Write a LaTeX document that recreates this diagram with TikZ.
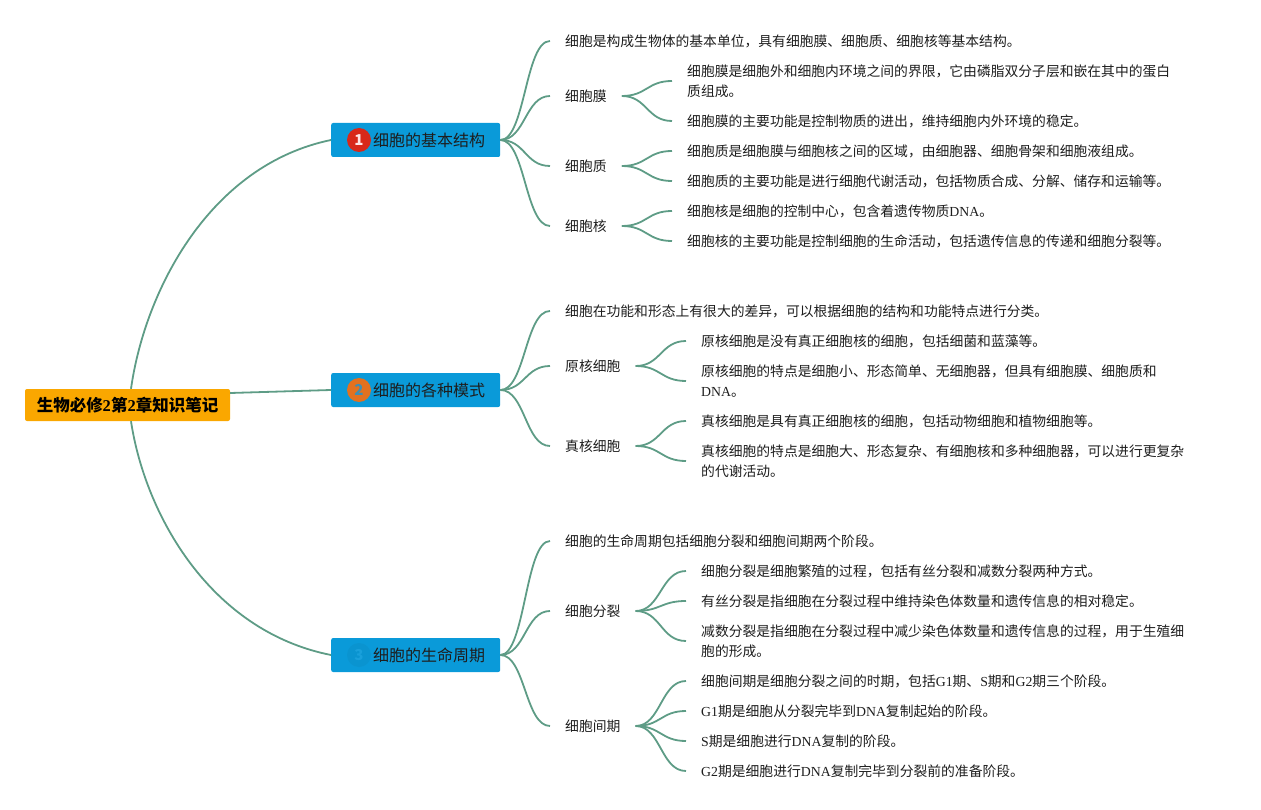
\documentclass[tikz,border=0pt]{standalone}
\usepackage{fontspec}
\setmainfont{Noto Sans CJK SC}
\newfontfamily\lat{Liberation Serif}
\usetikzlibrary{calc}
\definecolor{linkc}{HTML}{5E9C86}
\definecolor{rootc}{HTML}{FAA700}
\definecolor{boxc}{HTML}{0A9AD9}
\definecolor{redc}{HTML}{D8281A}
\definecolor{orgc}{HTML}{E2711F}
\definecolor{txtc}{HTML}{1E1E1E}
\newcommand\curvelink[2]{\draw[link] let \p1=(#1),\p2=(#2) in (\p1) .. controls ({0.5*\x1+0.5*\x2},\y1) and ({0.5*\x1+0.5*\x2},\y2) .. (\p2);}
\tikzset{
  link/.style={draw=linkc, line width=1.8pt},
  txt/.style={anchor=west, inner xsep=15pt, inner ysep=0pt, align=left, text=txtc, font=\fontsize{13.8}{20}\selectfont},
  rootbox/.style={fill=rootc, rounded corners=2pt, minimum width=205pt, minimum height=32pt, inner sep=0pt, text=black, font=\fontsize{16.5}{20}\selectfont\bfseries},
  branchbox/.style={fill=boxc, rounded corners=2pt, minimum width=169pt, minimum height=34pt, inner sep=0pt, anchor=west},
  branchtxt/.style={anchor=west, inner sep=0pt, text=txtc, font=\fontsize{16}{20}\selectfont},
  numc/.style={circle, fill=#1, minimum size=24pt, inner sep=0pt, font=\fontsize{15}{18}\selectfont\bfseries},
}
\begin{document}
\begin{tikzpicture}[x=1pt,y=-1pt]
\useasboundingbox (0,0) rectangle (1261,810);
% root
\node[rootbox] (root) at (127.5,405) {生物必修{\lat 2}第{\lat 2}章知识笔记};
% branch boxes
\node[branchbox] (b1) at (331,140) {};
\node[branchbox] (b2) at (331,390) {};
\node[branchbox] (b3) at (331,655) {};
\node[numc=redc, text=red!10] (c1) at (359,140) {1};
\node[numc=orgc, text=boxc!55!gray] (c2) at (359,390) {2};
\node[numc=boxc!96!black, text=boxc!94!white] (c3) at (359,655) {3};
\node[branchtxt] (t1) at (373,140) {细胞的基本结构};
\node[branchtxt] (t2) at (373,390) {细胞的各种模式};
\node[branchtxt] (t3) at (373,655) {细胞的生命周期};
% root connectors
\coordinate (rootup) at ($(root.north)+(3.5,0)$);
\coordinate (rootdown) at ($(root.south)+(3.5,0)$);
\coordinate (rootmid) at ($(root.east)+(0,-12)$);
\draw[link] (rootup) .. controls ($(rootup)+(14,-99)$) and ($(b1.west)+(-121,25)$) .. (b1.west);
\draw[link] (rootmid) -- (b2.west);
\draw[link] (rootdown) .. controls ($(rootdown)+(14,93)$) and ($(b3.west)+(-121,-24)$) .. (b3.west);

% ---------- branch 1
\node[txt] (a0) at (550,41) {细胞是构成生物体的基本单位，具有细胞膜、细胞质、细胞核等基本结构。};
\node[txt] (a1) at (550,96) {细胞膜};
\node[txt] (a2) at (550,166) {细胞质};
\node[txt] (a3) at (550,226) {细胞核};
\node[txt] (a11) at (672,81) {细胞膜是细胞外和细胞内环境之间的界限，它由磷脂双分子层和嵌在其中的蛋白\\质组成。};
\node[txt] (a12) at (672,121) {细胞膜的主要功能是控制物质的进出，维持细胞内外环境的稳定。};
\node[txt] (a21) at (672,151) {细胞质是细胞膜与细胞核之间的区域，由细胞器、细胞骨架和细胞液组成。};
\node[txt] (a22) at (672,181) {细胞质的主要功能是进行细胞代谢活动，包括物质合成、分解、储存和运输等。};
\node[txt] (a31) at (672,211) {细胞核是细胞的控制中心，包含着遗传物质{\lat DNA}。};
\node[txt] (a32) at (672,241) {细胞核的主要功能是控制细胞的生命活动，包括遗传信息的传递和细胞分裂等。};
\curvelink{b1.east}{a0.west}
\curvelink{b1.east}{a1.west}
\curvelink{b1.east}{a2.west}
\curvelink{b1.east}{a3.west}
\curvelink{a1.east}{a11.west}
\curvelink{a1.east}{a12.west}
\curvelink{a2.east}{a21.west}
\curvelink{a2.east}{a22.west}
\curvelink{a3.east}{a31.west}
\curvelink{a3.east}{a32.west}

% ---------- branch 2
\node[txt] (m0) at (550,311) {细胞在功能和形态上有很大的差异，可以根据细胞的结构和功能特点进行分类。};
\node[txt] (m1) at (550,366) {原核细胞};
\node[txt] (m2) at (550,446) {真核细胞};
\node[txt] (m11) at (686,341) {原核细胞是没有真正细胞核的细胞，包括细菌和蓝藻等。};
\node[txt] (m12) at (686,381) {原核细胞的特点是细胞小、形态简单、无细胞器，但具有细胞膜、细胞质和\\{\lat DNA}。};
\node[txt] (m21) at (686,421) {真核细胞是具有真正细胞核的细胞，包括动物细胞和植物细胞等。};
\node[txt] (m22) at (686,461) {真核细胞的特点是细胞大、形态复杂、有细胞核和多种细胞器，可以进行更复杂\\的代谢活动。};
\curvelink{b2.east}{m0.west}
\curvelink{b2.east}{m1.west}
\curvelink{b2.east}{m2.west}
\curvelink{m1.east}{m11.west}
\curvelink{m1.east}{m12.west}
\curvelink{m2.east}{m21.west}
\curvelink{m2.east}{m22.west}

% ---------- branch 3
\node[txt] (z0) at (550,541) {细胞的生命周期包括细胞分裂和细胞间期两个阶段。};
\node[txt] (z1) at (550,611) {细胞分裂};
\node[txt] (z2) at (550,726) {细胞间期};
\node[txt] (z11) at (686,571) {细胞分裂是细胞繁殖的过程，包括有丝分裂和减数分裂两种方式。};
\node[txt] (z12) at (686,601) {有丝分裂是指细胞在分裂过程中维持染色体数量和遗传信息的相对稳定。};
\node[txt] (z13) at (686,641) {减数分裂是指细胞在分裂过程中减少染色体数量和遗传信息的过程，用于生殖细\\胞的形成。};
\node[txt] (z21) at (686,681) {细胞间期是细胞分裂之间的时期，包括{\lat G1}期、{\lat S}期和{\lat G2}期三个阶段。};
\node[txt] (z22) at (686,711) {{\lat G1}期是细胞从分裂完毕到{\lat DNA}复制起始的阶段。};
\node[txt] (z23) at (686,741) {{\lat S}期是细胞进行{\lat DNA}复制的阶段。};
\node[txt] (z24) at (686,771) {{\lat G2}期是细胞进行{\lat DNA}复制完毕到分裂前的准备阶段。};
\curvelink{b3.east}{z0.west}
\curvelink{b3.east}{z1.west}
\curvelink{b3.east}{z2.west}
\curvelink{z1.east}{z11.west}
\curvelink{z1.east}{z12.west}
\curvelink{z1.east}{z13.west}
\curvelink{z2.east}{z21.west}
\curvelink{z2.east}{z22.west}
\curvelink{z2.east}{z23.west}
\curvelink{z2.east}{z24.west}
\end{tikzpicture}
\end{document}
